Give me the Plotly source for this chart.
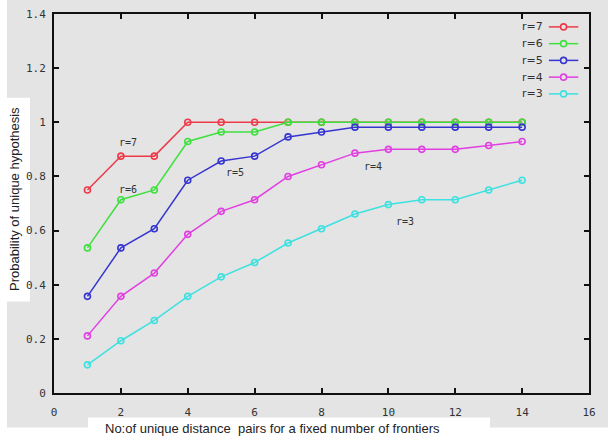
import plotly.graph_objects as go

# ---- data ----
x_vals = [1, 2, 3, 4, 5, 6, 7, 8, 9, 10, 11, 12, 13, 14]
series_names = ["r=7", "r=6", "r=5", "r=4", "r=3"]
r7 = [0.75, 0.875, 0.875, 1.0, 1.0, 1.0, 1.0, 1.0, 1.0, 1.0, 1.0, 1.0, 1.0, 1.0]
r6 = [0.536, 0.714, 0.75, 0.929, 0.964, 0.964, 1.0, 1.0, 1.0, 1.0, 1.0, 1.0, 1.0, 1.0]
r5 = [0.357, 0.536, 0.607, 0.786, 0.857, 0.875, 0.946, 0.964, 0.982, 0.982, 0.982, 0.982, 0.982, 0.982]
r4 = [0.211, 0.357, 0.443, 0.586, 0.671, 0.714, 0.8, 0.843, 0.886, 0.9, 0.9, 0.9, 0.914, 0.929]
r3 = [0.104, 0.193, 0.268, 0.357, 0.429, 0.482, 0.554, 0.607, 0.661, 0.696, 0.714, 0.714, 0.75, 0.786]
series_values = [r7, r6, r5, r4, r3]
colors = ["#ee3a48", "#3ee03e", "#3535d0", "#e040e0", "#3ee0e0"]

x_ticks = [0, 2, 4, 6, 8, 10, 12, 14, 16]
y_ticks = [0, 0.2, 0.4, 0.6, 0.8, 1.0, 1.2, 1.4]
y_tick_text = ["0", "0.2", "0.4", "0.6", "0.8", "1", "1.2", "1.4"]

# in-plot curve labels (data coordinates)
label_text = ["r=7", "r=6", "r=5", "r=4", "r=3"]
label_x = [2.2, 2.2, 5.4, 9.55, 10.5]
label_y = [0.927, 0.752, 0.816, 0.838, 0.635]

x_title = "No:of unique distance  pairs for a fixed number of frontiers"
y_title = "Probability of unique hypothesis"

GREY = "#e4e4e4"
TICKFONT = dict(family="DejaVu Sans Mono", size=11, color="#333333")

fig = go.Figure()
for name, vals, col in zip(series_names, series_values, colors):
    fig.add_trace(go.Scatter(
        x=x_vals, y=vals, mode="lines+markers", name=name,
        line=dict(color=col, width=1.5),
        marker=dict(symbol="circle-open", size=6, color=col, line=dict(width=1.6)),
        showlegend=False,
    ))

shapes = [
    # grey canvas
    dict(type="rect", xref="paper", yref="paper", x0=-0.0879, x1=1.06, y0=-0.0909, y1=1.05,
         fillcolor=GREY, line=dict(width=0), layer="below"),
    # white box behind x title
    dict(type="rect", xref="paper", yref="paper", x0=0.0636, x1=0.815, y0=-0.14, y1=-0.0649,
         fillcolor="white", line=dict(width=0), layer="below"),
    # white box behind y title
    dict(type="rect", xref="paper", yref="paper", x0=-0.0879, x1=-0.0449, y0=0.2416, y1=0.779,
         fillcolor="white", line=dict(width=0), layer="below"),
]

annotations = []
for t, lx, ly in zip(label_text, label_x, label_y):
    annotations.append(dict(x=lx, y=ly, xref="x", yref="y", text=t, showarrow=False,
                            font=dict(family="DejaVu Sans Mono", size=10, color="#333333")))

annotations.append(dict(x=0.409, y=-0.0935, xref="paper", yref="paper", text=x_title,
                        showarrow=False, xanchor="center", yanchor="middle",
                        font=dict(family="Liberation Sans", size=13, color="#222222")))
annotations.append(dict(x=-0.0729, y=0.512, xref="paper", yref="paper", text=y_title,
                        showarrow=False, textangle=-90, xanchor="center", yanchor="middle",
                        font=dict(family="Liberation Sans", size=13, color="#222222")))

# manual gnuplot-style key: text then line sample
for i, (name, col) in enumerate(zip(series_names, colors)):
    yp = 0.966 - 0.0442 * i
    annotations.append(dict(x=0.918, y=yp, xref="paper", yref="paper", text=name,
                            showarrow=False, xanchor="right", yanchor="middle",
                            font=dict(family="DejaVu Sans", size=11, color="#333333")))
    shapes.append(dict(type="line", xref="paper", yref="paper", x0=0.925, x1=0.980, y0=yp, y1=yp,
                       line=dict(color=col, width=1.5)))
    shapes.append(dict(type="circle", xref="paper", yref="paper", xsizemode="pixel",
                       ysizemode="pixel", xanchor=0.9525, yanchor=yp, x0=-3, x1=3, y0=-3, y1=3,
                       line=dict(color=col, width=1.6), fillcolor=GREY))

fig.update_layout(
    width=608, height=440,
    margin=dict(l=54, r=19, t=8, b=47),
    paper_bgcolor="white", plot_bgcolor=GREY,
    shapes=shapes, annotations=annotations,
    showlegend=False,
)
fig.update_xaxes(range=[0, 16], tickvals=x_ticks, ticktext=[str(v) for v in x_ticks],
                 showgrid=False, zeroline=False, showline=True, linecolor="#111111", linewidth=2,
                 mirror="ticks", ticks="inside", ticklen=5, tickwidth=1.5, tickcolor="#111111",
                 tickfont=TICKFONT, ticklabelstandoff=8)
fig.update_yaxes(range=[0, 1.4], tickvals=y_ticks, ticktext=y_tick_text,
                 showgrid=False, zeroline=False, showline=True, linecolor="#111111", linewidth=2,
                 mirror="ticks", ticks="inside", ticklen=5, tickwidth=1.5, tickcolor="#111111",
                 tickfont=TICKFONT, ticklabelstandoff=4)

# remove the browser's default 8px body margin so the figure fills the window
fig.write_html("out.html", config={"displayModeBar": False},
               post_script="document.body.style.margin='0';")
